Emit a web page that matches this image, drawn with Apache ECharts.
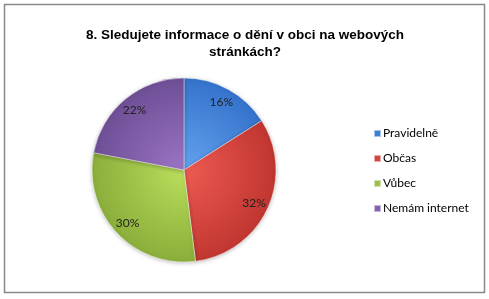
<!DOCTYPE html>
<html><head><meta charset="utf-8">
<script src="https://cdn.jsdelivr.net/npm/echarts@6/dist/echarts.min.js"></script>
<style>html,body{margin:0;padding:0;background:#fff}#c{width:489px;height:299px}</style>
</head><body><div id="c"></div>
<script>
const categories = ['Pravidelně', 'Občas', 'Vůbec', 'Nemám internet'];
const values = [16, 32, 30, 22];
const innerColors = ['#64a3ee', '#ee5b52', '#bade5c', '#9c74c4'];
const outerColors = ['#3572cc', '#c03630', '#8aae3a', '#6e4f96'];
const legendColors = ['#3d7fd3', '#d04640', '#9dc04b', '#8361ab'];

const cx = 184, cy = 170, R = 92;
const chart = echarts.init(document.getElementById('c'), null, {renderer: 'canvas'});
const dataMain = categories.map((n, i) => ({
  name: n, value: values[i],
  itemStyle: {color: {type: 'radial', x: cx, y: cy, r: R, global: true,
    colorStops: [{offset: 0, color: innerColors[i]}, {offset: 1, color: outerColors[i]}]}}
}));
const dataLabel = categories.map((n, i) => ({name: n, value: values[i]}));
chart.setOption({
  animation: false,
  title: {
    text: '8. Sledujete informace o dění v obci na webových\nstránkách?',
    left: 240, top: 22, textAlign: 'center',
    textStyle: {fontFamily: 'Liberation Sans, Arial', fontSize: 13.5, fontWeight: 'bold', color: '#000', lineHeight: 17}
  },
  legend: {
    orient: 'vertical', left: 368, top: 122,
    itemWidth: 7, itemHeight: 7, itemGap: 12, icon: 'rect',
    data: categories.map((n, i) => ({name: n, itemStyle: {color: legendColors[i]}})),
    textStyle: {fontFamily: 'Lato, Open Sans, sans-serif', fontSize: 12, color: '#000', lineHeight: 13, padding: [0, 0, 0, -3]}
  },
  graphic: [{type: 'rect', shape: {x: 4.5, y: 4.5, width: 480, height: 288}, style: {fill: 'none', stroke: '#888', lineWidth: 1.5}, silent: true, z: -1}],
  series: [{
    type: 'pie', center: [cx, cy], radius: [0, R], startAngle: 90, clockwise: true,
    label: {show: false}, labelLine: {show: false},
    itemStyle: {borderColor: 'rgba(255,255,255,0.55)', borderWidth: 0.8,
      shadowBlur: 4, shadowColor: 'rgba(0,0,0,0.25)', shadowOffsetY: 1},
    data: dataMain
  }, {
    type: 'pie', center: [cx, cy], radius: [R * 0.62, R], startAngle: 90, clockwise: true,
    silent: true, legendHoverLink: false,
    itemStyle: {color: 'rgba(0,0,0,0)', borderWidth: 0},
    label: {show: true, position: 'inside', formatter: '{c}%', fontFamily: 'Lato, Open Sans, sans-serif', fontSize: 12, color: '#222'},
    labelLine: {show: false},
    data: dataLabel
  }]
});
</script></body></html>
